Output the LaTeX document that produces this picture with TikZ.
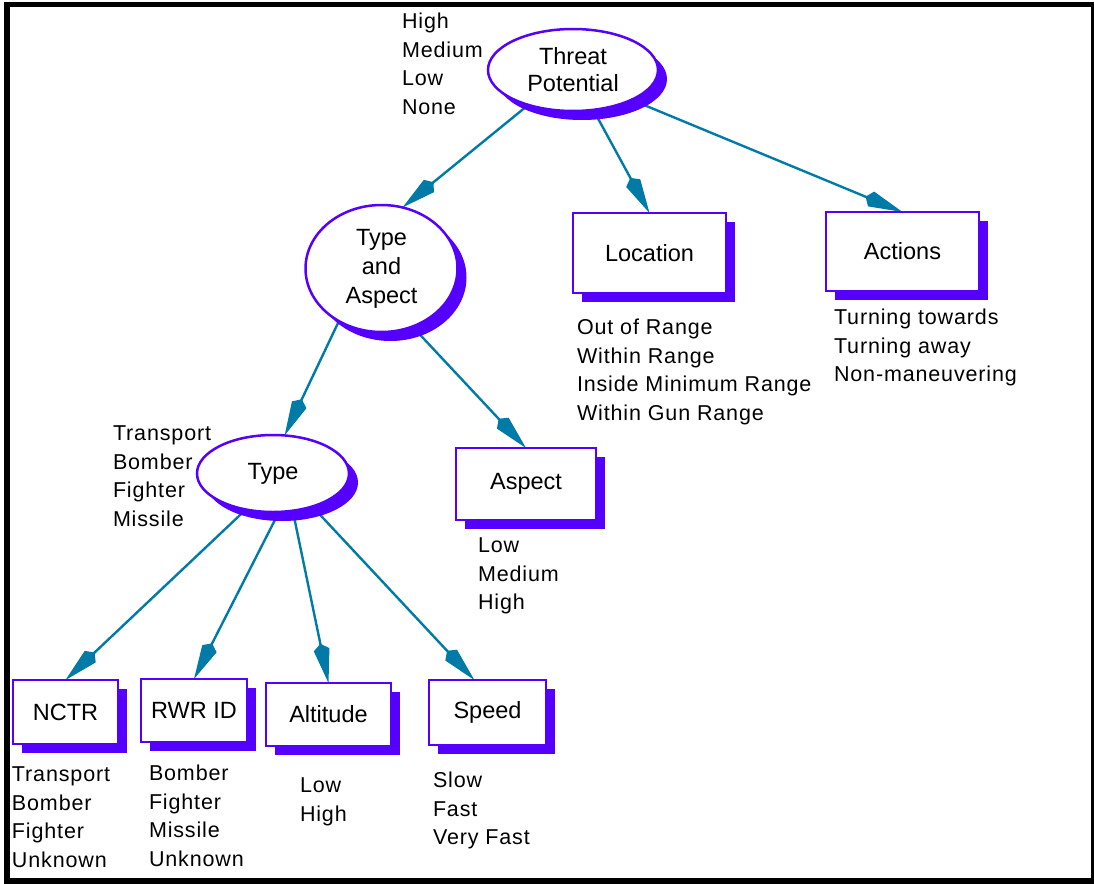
\documentclass[tikz,border=0pt]{standalone}
\usepackage{fontspec}
\setmainfont{Liberation Sans}
\usetikzlibrary{shapes.geometric,arrows.meta,shadows}
\definecolor{vio}{RGB}{85,0,255}
\definecolor{linkcol}{RGB}{0,123,167}
\pgfdeclarelayer{background}
\pgfsetlayers{background,main}

\tikzset{
  nodefont/.style={font=\fontsize{23.5}{27}\selectfont},
  lbl/.style={anchor=north west, inner sep=0, outer sep=0, align=left,
    font=\fontsize{21.5}{28.5}\selectfont\addfontfeature{LetterSpace=4}},
  shade/.style={drop shadow={shadow xshift=9pt, shadow yshift=-9pt, fill=vio, opacity=1}},
  oval/.style={ellipse, draw=vio, line width=2.5pt, fill=white, inner sep=0,
    outer sep=0, align=center, nodefont, shade},
  boxn/.style={rectangle, draw=vio, line width=2.2pt, fill=white, inner sep=0,
    outer sep=0, nodefont, shade},
  link/.style={draw=linkcol, line width=2.4pt,
    -{Kite[length=40pt,width=16pt,inset=6pt]}},
}

\begin{document}
\begin{tikzpicture}[x=1pt,y=-1pt]
\useasboundingbox (0,0) rectangle (1094,883);
\draw[line width=5.5pt] (7,4.5) rectangle (1094,881);

% ovals
\node[oval, minimum width=170pt, minimum height=82pt] (threat) at (573,70) {Threat\\Potential};
\node[oval, minimum width=152pt, minimum height=127pt, font=\fontsize{23.5}{29}\selectfont] (ta) at (381.5,268.5) {Type\\and\\Aspect};
\node[oval, minimum width=152pt, minimum height=77pt] (type) at (273,473.5) {Type};

% boxes
\node[boxn, minimum width=153pt, minimum height=80pt] (loc) at (649.5,253) {Location};
\node[boxn, minimum width=153pt, minimum height=79pt] (act) at (902.5,251.5) {Actions};
\node[boxn, minimum width=140pt, minimum height=72pt] (asp) at (526,484) {Aspect};
\node[boxn, minimum width=105pt, minimum height=64pt] (nctr) at (65.5,712) {NCTR};
\node[boxn, minimum width=106pt, minimum height=63pt] (rwr) at (194,710.5) {RWR ID};
\node[boxn, minimum width=125pt, minimum height=63pt] (alt) at (328.5,714.5) {Altitude};
\node[boxn, minimum width=117pt, minimum height=65pt] (spd) at (487.5,712.5) {Speed};

% state lists
\node[lbl] (tpv) at (402,13) {High\\Medium\\Low\\None};
\node[lbl] (locv) at (577,319) {Out of Range\\Within Range\\Inside Minimum Range\\Within Gun Range};
\node[lbl] (actv) at (834,309) {Turning towards\\Turning away\\Non-maneuvering};
\node[lbl] (typev) at (113,426) {Transport\\Bomber\\Fighter\\Missile};
\node[lbl] (aspv) at (478,538) {Low\\Medium\\High};
\node[lbl] (nctrv) at (12,767) {Transport\\Bomber\\Fighter\\Unknown};
\node[lbl] (rwrv) at (149,765) {Bomber\\Fighter\\Missile\\Unknown};
\node[lbl] (altv) at (300,778) {Low\\High};
\node[lbl] (spdv) at (433,772) {Slow\\Fast\\Very Fast};

% links
\begin{pgfonlayer}{background}
\draw[link] (threat.218) -- (ta.71);
\draw[link] (threat.-63) -- (loc.north);
\draw[link] (threat.-27.5) -- (act.north);
\draw[link] (ta.231) -- (type.73);
\draw[link] (ta.-62) -- (asp.north);
\draw[link] (type.233) -- (nctr.north);
\draw[link] (type.-81) -- (rwr.north);
\draw[link] (type.-62) -- (alt.north);
\draw[link] (type.-40) -- (spd.112.6);
\end{pgfonlayer}
\end{tikzpicture}
\end{document}
